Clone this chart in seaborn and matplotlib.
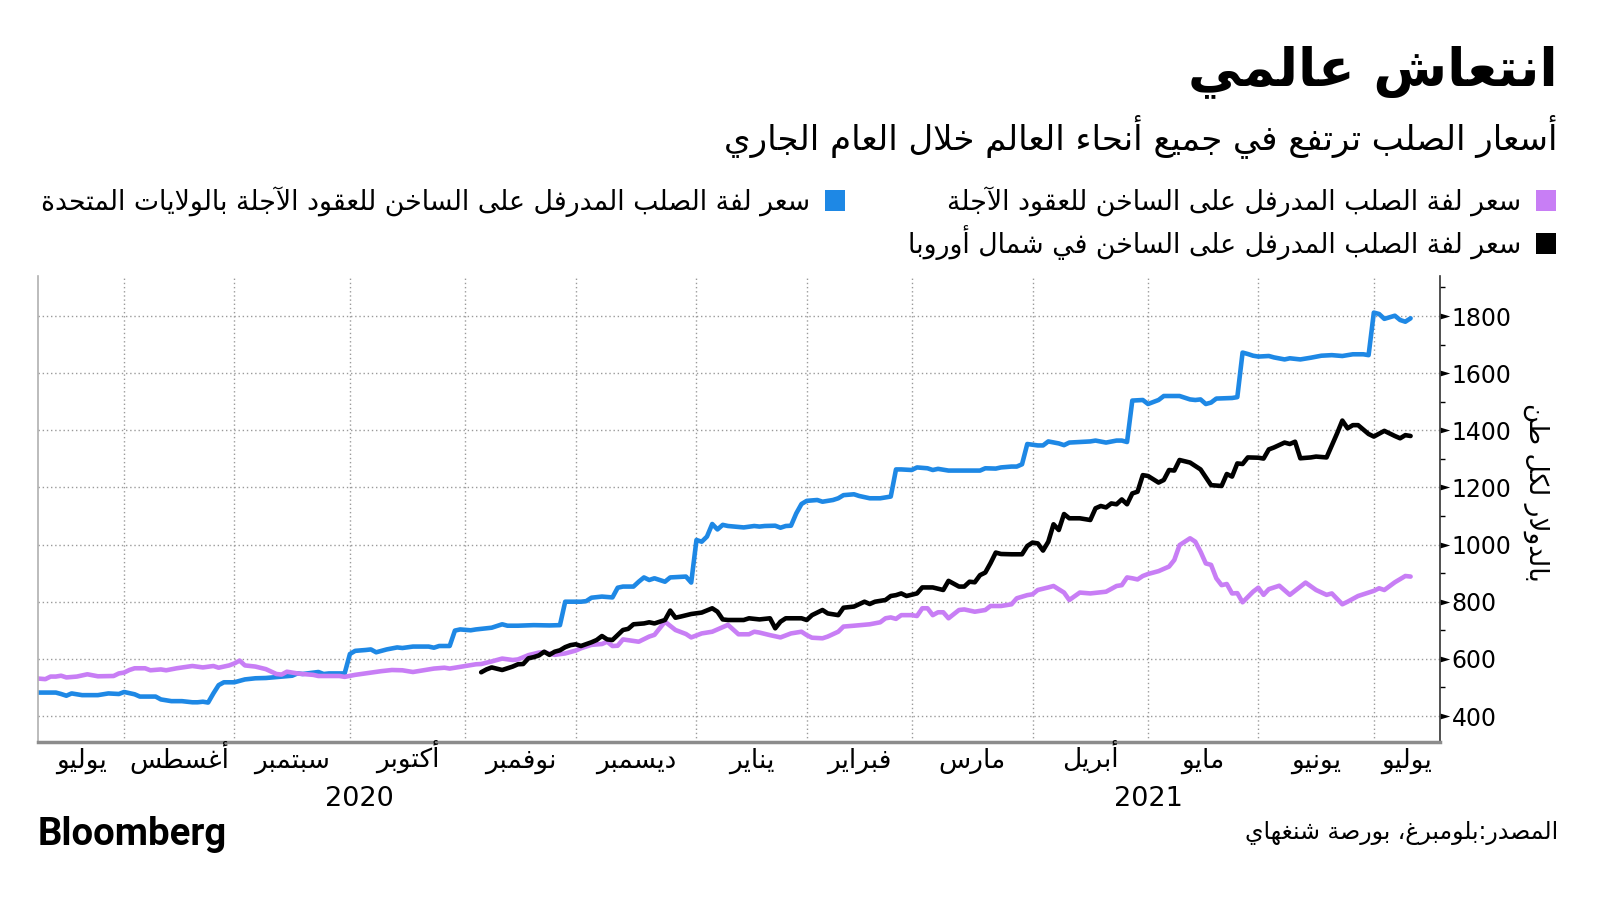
import numpy as np
import pandas as pd
import seaborn as sns
import matplotlib.pyplot as plt
from matplotlib.patches import Patch
from matplotlib.path import Path
from matplotlib.transforms import blended_transform_factory

# Chart text
title = 'انتعاش عالمي'
subtitle = 'أسعار الصلب ترتفع في جميع أنحاء العالم خلال العام الجاري'
label_shanghai = 'سعر لفة الصلب المدرفل على الساخن للعقود الآجلة'
label_us = 'سعر لفة الصلب المدرفل على الساخن للعقود الآجلة بالولايات المتحدة'
label_europe = 'سعر لفة الصلب المدرفل على الساخن في شمال أوروبا'
y_label = 'بالدولار لكل طن'
source = 'المصدر:بلومبرغ، بورصة شنغهاي'
month_names = ['يوليو', 'أغسطس', 'سبتمبر', 'أكتوبر', 'نوفمبر', 'ديسمبر', 'يناير',
               'فبراير', 'مارس', 'أبريل', 'مايو', 'يونيو', 'يوليو']
month_starts = ['2020-08-01', '2020-09-01', '2020-10-01', '2020-11-01', '2020-12-01',
                '2021-01-01', '2021-02-01', '2021-03-01', '2021-04-01', '2021-05-01',
                '2021-06-01', '2021-07-01']
y_ticks = [400, 600, 800, 1000, 1200, 1400, 1600, 1800]

# US hot-rolled coil futures (blue)
us_dates = ['2020-07-09', '2020-07-15', '2020-07-16', '2020-07-17', '2020-07-20', '2020-07-22',
            '2020-07-27', '2020-07-29', '2020-07-31', '2020-08-03', '2020-08-05', '2020-08-06',
            '2020-08-11', '2020-08-12', '2020-08-14', '2020-08-18', '2020-08-20', '2020-08-21',
            '2020-08-24', '2020-08-25', '2020-08-26', '2020-08-27', '2020-08-28', '2020-09-01',
            '2020-09-03', '2020-09-07', '2020-09-09', '2020-09-14', '2020-09-16', '2020-09-17',
            '2020-09-18', '2020-09-23', '2020-09-24', '2020-09-25', '2020-09-30', '2020-10-01',
            '2020-10-02', '2020-10-06', '2020-10-07', '2020-10-08', '2020-10-12', '2020-10-14',
            '2020-10-15', '2020-10-19', '2020-10-22', '2020-10-23', '2020-10-26', '2020-10-28',
            '2020-10-29', '2020-10-30', '2020-11-03', '2020-11-04', '2020-11-09', '2020-11-11',
            '2020-11-12', '2020-11-16', '2020-11-19', '2020-11-24', '2020-11-26', '2020-11-27',
            '2020-12-02', '2020-12-03', '2020-12-04', '2020-12-08', '2020-12-10', '2020-12-11',
            '2020-12-14', '2020-12-16', '2020-12-17', '2020-12-18', '2020-12-21', '2020-12-22',
            '2020-12-24', '2020-12-25', '2020-12-30', '2020-12-31', '2021-01-01', '2021-01-04',
            '2021-01-05', '2021-01-06', '2021-01-07', '2021-01-08', '2021-01-11', '2021-01-14',
            '2021-01-18', '2021-01-19', '2021-01-20', '2021-01-22', '2021-01-25', '2021-01-26',
            '2021-01-27', '2021-01-28', '2021-01-29', '2021-02-01', '2021-02-03', '2021-02-04',
            '2021-02-08', '2021-02-09', '2021-02-10', '2021-02-12', '2021-02-15', '2021-02-17',
            '2021-02-19', '2021-02-23', '2021-02-24', '2021-02-25', '2021-03-01', '2021-03-02',
            '2021-03-04', '2021-03-05', '2021-03-08', '2021-03-10', '2021-03-18', '2021-03-19',
            '2021-03-23', '2021-03-24', '2021-03-26', '2021-03-29', '2021-03-30', '2021-03-31',
            '2021-04-02', '2021-04-05', '2021-04-06', '2021-04-08', '2021-04-09', '2021-04-12',
            '2021-04-16', '2021-04-19', '2021-04-21', '2021-04-23', '2021-04-26', '2021-04-27',
            '2021-04-28', '2021-04-30', '2021-05-03', '2021-05-05', '2021-05-06', '2021-05-11',
            '2021-05-13', '2021-05-14', '2021-05-17', '2021-05-18', '2021-05-19', '2021-05-20',
            '2021-05-25', '2021-05-26', '2021-05-27', '2021-05-28', '2021-05-31', '2021-06-01',
            '2021-06-03', '2021-06-04', '2021-06-08', '2021-06-09', '2021-06-11', '2021-06-15',
            '2021-06-17', '2021-06-21', '2021-06-23', '2021-06-25', '2021-06-29', '2021-06-30',
            '2021-07-01', '2021-07-02', '2021-07-05', '2021-07-07', '2021-07-08', '2021-07-09',
            '2021-07-12']
us_values = [482, 482, 477, 471, 479, 473, 473, 479, 477, 484, 476, 468,
             468, 458, 452, 452, 448, 448, 450, 447, 479, 508, 518, 518,
             528, 532, 533, 538, 541, 549, 547, 554, 547, 549, 549, 617,
             628, 631, 633, 623, 633, 640, 638, 643, 643, 639, 645, 645,
             699, 703, 700, 703, 709, 721, 716, 716, 718, 717, 718, 800,
             800, 802, 814, 818, 815, 849, 853, 853, 870, 885, 876, 882,
             870, 885, 888, 867, 1016, 1010, 1028, 1072, 1053, 1069, 1065, 1060,
             1065, 1063, 1065, 1066, 1059, 1065, 1066, 1109, 1142, 1153, 1156, 1150,
             1156, 1162, 1173, 1176, 1170, 1162, 1162, 1168, 1263, 1263, 1261, 1270,
             1267, 1261, 1265, 1259, 1259, 1267, 1266, 1270, 1273, 1273, 1281, 1352,
             1347, 1347, 1361, 1354, 1348, 1357, 1361, 1364, 1357, 1364, 1364, 1359,
             1504, 1506, 1492, 1506, 1520, 1520, 1508, 1506, 1508, 1492, 1497, 1511,
             1513, 1516, 1672, 1667, 1661, 1658, 1660, 1655, 1648, 1652, 1648, 1654,
             1661, 1663, 1660, 1666, 1666, 1663, 1812, 1807, 1790, 1801, 1786, 1780,
             1792]

# Shanghai hot-rolled coil futures (lilac)
sh_dates = ['2020-07-09', '2020-07-13', '2020-07-14', '2020-07-15', '2020-07-16', '2020-07-17',
            '2020-07-21', '2020-07-23', '2020-07-27', '2020-07-30', '2020-07-31', '2020-08-03',
            '2020-08-04', '2020-08-05', '2020-08-07', '2020-08-10', '2020-08-12', '2020-08-13',
            '2020-08-17', '2020-08-20', '2020-08-24', '2020-08-26', '2020-08-27', '2020-08-31',
            '2020-09-01', '2020-09-02', '2020-09-03', '2020-09-07', '2020-09-09', '2020-09-11',
            '2020-09-14', '2020-09-15', '2020-09-17', '2020-09-18', '2020-09-22', '2020-09-23',
            '2020-09-29', '2020-09-30', '2020-10-02', '2020-10-07', '2020-10-09', '2020-10-13',
            '2020-10-15', '2020-10-19', '2020-10-20', '2020-10-23', '2020-10-27', '2020-10-28',
            '2020-11-02', '2020-11-04', '2020-11-05', '2020-11-09', '2020-11-11', '2020-11-13',
            '2020-11-16', '2020-11-18', '2020-11-20', '2020-11-23', '2020-11-25', '2020-11-27',
            '2020-12-01', '2020-12-02', '2020-12-04', '2020-12-08', '2020-12-09', '2020-12-10',
            '2020-12-11', '2020-12-14', '2020-12-17', '2020-12-21', '2020-12-22', '2020-12-24',
            '2020-12-28', '2020-12-30', '2020-12-31', '2021-01-04', '2021-01-06', '2021-01-07',
            '2021-01-11', '2021-01-13', '2021-01-15', '2021-01-18', '2021-01-19', '2021-01-21',
            '2021-01-25', '2021-01-27', '2021-01-29', '2021-02-01', '2021-02-02', '2021-02-04',
            '2021-02-05', '2021-02-09', '2021-02-10', '2021-02-12', '2021-02-17', '2021-02-19',
            '2021-02-22', '2021-02-23', '2021-02-24', '2021-02-25', '2021-03-01', '2021-03-02',
            '2021-03-03', '2021-03-04', '2021-03-05', '2021-03-08', '2021-03-09', '2021-03-10',
            '2021-03-12', '2021-03-15', '2021-03-17', '2021-03-19', '2021-03-22', '2021-03-24',
            '2021-03-26', '2021-03-29', '2021-03-31', '2021-04-01', '2021-04-02', '2021-04-06',
            '2021-04-07', '2021-04-09', '2021-04-12', '2021-04-14', '2021-04-16', '2021-04-20',
            '2021-04-21', '2021-04-23', '2021-04-26', '2021-04-27', '2021-04-28', '2021-04-29',
            '2021-04-30', '2021-05-03', '2021-05-05', '2021-05-07', '2021-05-10', '2021-05-11',
            '2021-05-13', '2021-05-14', '2021-05-17', '2021-05-18', '2021-05-19', '2021-05-20',
            '2021-05-21', '2021-05-24', '2021-05-25', '2021-05-26', '2021-05-27', '2021-05-31',
            '2021-06-01', '2021-06-02', '2021-06-03', '2021-06-07', '2021-06-09', '2021-06-14',
            '2021-06-16', '2021-06-18', '2021-06-21', '2021-06-23', '2021-06-24', '2021-06-28',
            '2021-07-01', '2021-07-02', '2021-07-05', '2021-07-07', '2021-07-09', '2021-07-12']
sh_values = [532, 529, 538, 538, 541, 535, 538, 546, 539, 540, 549, 552,
             561, 567, 567, 560, 563, 560, 567, 575, 570, 575, 569, 577,
             584, 594, 577, 573, 564, 547, 545, 555, 549, 547, 544, 540,
             540, 537, 544, 552, 557, 561, 560, 554, 557, 566, 569, 566,
             575, 581, 582, 591, 601, 596, 598, 613, 622, 623, 614, 619,
             629, 637, 649, 652, 660, 645, 646, 668, 660, 678, 684, 730,
             701, 687, 675, 689, 695, 703, 719, 686, 686, 695, 692, 683,
             675, 689, 695, 683, 674, 672, 678, 695, 713, 716, 721, 728,
             742, 745, 740, 753, 753, 750, 777, 777, 753, 763, 763, 742,
             771, 773, 765, 771, 785, 785, 791, 812, 823, 826, 841, 850,
             855, 832, 806, 832, 829, 833, 835, 855, 858, 885, 882, 878,
             890, 897, 907, 923, 946, 998, 1022, 1010, 975, 934, 929, 882,
             858, 862, 829, 830, 798, 835, 849, 824, 844, 856, 824, 867,
             841, 824, 829, 791, 800, 820, 838, 847, 841, 868, 890, 888]

# North Europe hot-rolled coil (black)
eu_dates = ['2020-11-05', '2020-11-06', '2020-11-09', '2020-11-11', '2020-11-13', '2020-11-16',
            '2020-11-17', '2020-11-18', '2020-11-19', '2020-11-20', '2020-11-23', '2020-11-24',
            '2020-11-25', '2020-11-26', '2020-11-27', '2020-11-30', '2020-12-01', '2020-12-02',
            '2020-12-04', '2020-12-07', '2020-12-08', '2020-12-09', '2020-12-10', '2020-12-14',
            '2020-12-15', '2020-12-16', '2020-12-18', '2020-12-21', '2020-12-22', '2020-12-24',
            '2020-12-25', '2020-12-28', '2020-12-29', '2020-12-31', '2021-01-04', '2021-01-06',
            '2021-01-07', '2021-01-08', '2021-01-11', '2021-01-14', '2021-01-15', '2021-01-19',
            '2021-01-21', '2021-01-22', '2021-01-25', '2021-01-26', '2021-01-29', '2021-02-01',
            '2021-02-02', '2021-02-04', '2021-02-05', '2021-02-09', '2021-02-10', '2021-02-12',
            '2021-02-16', '2021-02-17', '2021-02-18', '2021-02-22', '2021-02-23', '2021-02-24',
            '2021-02-25', '2021-02-26', '2021-03-02', '2021-03-03', '2021-03-05', '2021-03-09',
            '2021-03-10', '2021-03-12', '2021-03-15', '2021-03-16', '2021-03-17', '2021-03-18',
            '2021-03-19', '2021-03-22', '2021-03-23', '2021-03-24', '2021-03-26', '2021-03-30',
            '2021-03-31', '2021-04-01', '2021-04-02', '2021-04-05', '2021-04-06', '2021-04-07',
            '2021-04-08', '2021-04-09', '2021-04-12', '2021-04-14', '2021-04-16', '2021-04-19',
            '2021-04-20', '2021-04-21', '2021-04-22', '2021-04-23', '2021-04-26', '2021-04-27',
            '2021-04-28', '2021-04-29', '2021-04-30', '2021-05-03', '2021-05-05', '2021-05-06',
            '2021-05-07', '2021-05-10', '2021-05-11', '2021-05-13', '2021-05-17', '2021-05-19',
            '2021-05-21', '2021-05-24', '2021-05-25', '2021-05-26', '2021-05-27', '2021-05-28',
            '2021-06-01', '2021-06-02', '2021-06-03', '2021-06-04', '2021-06-08', '2021-06-09',
            '2021-06-10', '2021-06-11', '2021-06-15', '2021-06-16', '2021-06-18', '2021-06-22',
            '2021-06-23', '2021-06-24', '2021-06-25', '2021-06-28', '2021-06-30', '2021-07-01',
            '2021-07-05', '2021-07-07', '2021-07-08', '2021-07-09', '2021-07-12']
eu_values = [553, 563, 570, 561, 573, 581, 582, 602, 606, 612, 625, 614,
             625, 630, 641, 648, 651, 645, 658, 666, 680, 668, 666, 701,
             705, 721, 724, 728, 724, 736, 769, 744, 748, 757, 762, 777,
             765, 738, 736, 736, 742, 738, 742, 707, 730, 742, 742, 736,
             753, 771, 759, 753, 779, 783, 800, 792, 800, 806, 820, 823,
             829, 820, 829, 850, 850, 841, 873, 853, 853, 870, 868, 893,
             902, 935, 972, 967, 966, 966, 995, 1007, 1004, 979, 1010, 1071,
             1051, 1107, 1092, 1092, 1086, 1127, 1135, 1130, 1144, 1141, 1158, 1141,
             1179, 1185, 1243, 1240, 1217, 1226, 1261, 1259, 1296, 1287, 1263, 1208,
             1205, 1247, 1238, 1284, 1282, 1305, 1304, 1301, 1333, 1340, 1357, 1352,
             1360, 1302, 1305, 1308, 1305, 1389, 1434, 1407, 1418, 1418, 1387, 1378,
             1398, 1380, 1372, 1383, 1380]

BLUE = '#1e88e5'
LILAC = '#c87ef5'

# matplotlib has no Arabic shaping, so pick the presentation forms by hand
DUAL = {'ئ': 0xFE89, 'ب': 0xFE8F, 'ت': 0xFE95, 'ث': 0xFE99, 'ج': 0xFE9D, 'ح': 0xFEA1,
        'خ': 0xFEA5, 'س': 0xFEB1, 'ش': 0xFEB5, 'ص': 0xFEB9, 'ض': 0xFEBD, 'ط': 0xFEC1,
        'ظ': 0xFEC5, 'ع': 0xFEC9, 'غ': 0xFECD, 'ف': 0xFED1, 'ق': 0xFED5, 'ك': 0xFED9,
        'ل': 0xFEDD, 'م': 0xFEE1, 'ن': 0xFEE5, 'ه': 0xFEE9, 'ي': 0xFEF1}
RIGHT = {'آ': 0xFE81, 'أ': 0xFE83, 'ؤ': 0xFE85, 'إ': 0xFE87, 'ا': 0xFE8D, 'ة': 0xFE93,
         'د': 0xFEA9, 'ذ': 0xFEAB, 'ر': 0xFEAD, 'ز': 0xFEAF, 'و': 0xFEED, 'ى': 0xFEEF}
LAM_ALEF = {'آ': 0xFEF5, 'أ': 0xFEF7, 'إ': 0xFEF9, 'ا': 0xFEFB}


def shape(text):
    out = []
    i = 0
    while i < len(text):
        c = text[i]
        prev_joins = i > 0 and text[i - 1] in DUAL
        nxt = text[i + 1] if i + 1 < len(text) else ''
        if c == 'ل' and nxt in LAM_ALEF:
            out.append(chr(LAM_ALEF[nxt] + (1 if prev_joins else 0)))
            i += 2
            continue
        if c in DUAL:
            next_joins = nxt in DUAL or nxt in RIGHT
            form = {(True, True): 3, (True, False): 1, (False, True): 2, (False, False): 0}
            out.append(chr(DUAL[c] + form[(prev_joins, next_joins)]))
        elif c in RIGHT:
            out.append(chr(RIGHT[c] + (1 if prev_joins else 0)))
        else:
            out.append(c)
        i += 1
    return ''.join(reversed(out))


sns.set_theme(style='white')
plt.rcParams['font.family'] = ['DejaVu Sans']
plt.rcParams.update({'text.color': 'black', 'xtick.color': 'black', 'ytick.color': 'black'})

origin = '2020-08-03'


def bday(dates):
    # position on a weekday-only time axis
    d = np.busday_offset(np.array(dates, dtype='datetime64[D]'), 0, roll='forward')
    return np.busday_count(origin, d)


W, H = 1600, 901
fig = plt.figure(figsize=(16, 9.01), dpi=100)
ax = fig.add_axes([38 / W, 1 - 742 / H, (1440 - 38) / W, (742 - 276) / H])

series = [(us_dates, us_values, BLUE), (sh_dates, sh_values, LILAC), (eu_dates, eu_values, 'black')]
for dates, values, color in series:
    df = pd.DataFrame({'pos': bday(dates), 'price': values})
    sns.lineplot(data=df, x='pos', y='price', color=color, linewidth=3.3, ax=ax,
                 estimator=None, solid_joinstyle='round')

x_left, x_right = -16.4, 250.6
ax.set_xlim(x_left, x_right)
ax.set_ylim(309, 1940)
ax.set_xlabel('')
ax.set_ylabel('')

# month boundaries as ticks (grid), month names centred between them
starts = bday(month_starts)
edges = np.concatenate([[x_left], starts, [x_right]])
mids = (edges[:-1] + edges[1:]) / 2
ax.set_xticks(starts)
ax.set_xticklabels([''] * len(starts))
ax.tick_params(axis='x', which='major', direction='out', length=8, width=0.8, color='#aaaaaa')
trans = blended_transform_factory(ax.transData, ax.transAxes)
for m, name in zip(mids, month_names):
    ax.text(m, -(768 - 742) / 466, shape(name), transform=trans, ha='center',
            va='baseline', fontsize=19)

ax.yaxis.tick_right()
ax.set_yticks(y_ticks)
ax.set_yticks(np.arange(500, 1901, 200), minor=True)
ax.tick_params(axis='y', which='major', right=True, length=7, pad=1.5, labelsize=17,
               color='black')
ax.tick_params(axis='y', which='minor', right=True, length=3.5, width=1, color='black')
tri = Path([(0, -0.3), (1, 0), (0, 0.3), (0, -0.3)],
           [Path.MOVETO, Path.LINETO, Path.LINETO, Path.CLOSEPOLY])
for t in ax.yaxis.get_major_ticks():
    t.tick2line.set_marker(tri)
    t.tick2line.set_markersize(14)
    t.tick2line.set_markerfacecolor('black')
    t.tick2line.set_markeredgewidth(0)

ax.grid(True, which='major', color='#9a9a9a', linestyle=(0, (1, 2)), lw=1)
ax.spines['top'].set_visible(False)
ax.spines['left'].set_color('#b0b0b0')
ax.spines['left'].set_linewidth(1.2)
ax.spines['right'].set_color('#333333')
ax.spines['right'].set_linewidth(1.2)
ax.spines['bottom'].set_color('#8c8c8c')
ax.spines['bottom'].set_linewidth(2.5)

# legend, right-to-left: text then square
sq = dict(lw=0)
leg_kw = dict(loc='upper right', bbox_transform=fig.transFigure, frameon=False,
              markerfirst=False, fontsize=19.3, handlelength=0.75, handleheight=0.85,
              handletextpad=0.55, labelspacing=0.3, borderpad=0, borderaxespad=0)
leg1 = ax.legend(handles=[Patch(color=LILAC, label=shape(label_shanghai), **sq),
                          Patch(color='black', label=shape(label_europe), **sq)],
                 bbox_to_anchor=(1556 / W, 1 - 186 / H), **leg_kw)
ax.add_artist(leg1)
ax.legend(handles=[Patch(color=BLUE, label=shape(label_us), **sq)],
          bbox_to_anchor=(845 / W, 1 - 186 / H), **leg_kw)

fig.text(1558 / W, 1 - 85 / H, shape(title), ha='right', va='baseline',
         fontsize=38.5, fontweight='bold')
fig.text(1558 / W, 1 - 149 / H, shape(subtitle), ha='right', va='baseline', fontsize=24.5)
fig.text(1536 / W, 1 - 492 / H, shape(y_label), rotation=-90, ha='center', va='center',
         fontsize=19)
fig.text(359 / W, 1 - 806 / H, '2020', ha='center', va='baseline', fontsize=19.5)
fig.text(1148 / W, 1 - 806 / H, '2021', ha='center', va='baseline', fontsize=19.5)
fig.text(38 / W, 1 - 845 / H, 'Bloomberg', ha='left', va='baseline', fontsize=27.5,
         fontweight='bold', family=['Roboto', 'DejaVu Sans'])
fig.text(1558 / W, 1 - 839 / H, shape(source), ha='right', va='baseline', fontsize=17)

fig.savefig('out.png', dpi=100, facecolor='white')
